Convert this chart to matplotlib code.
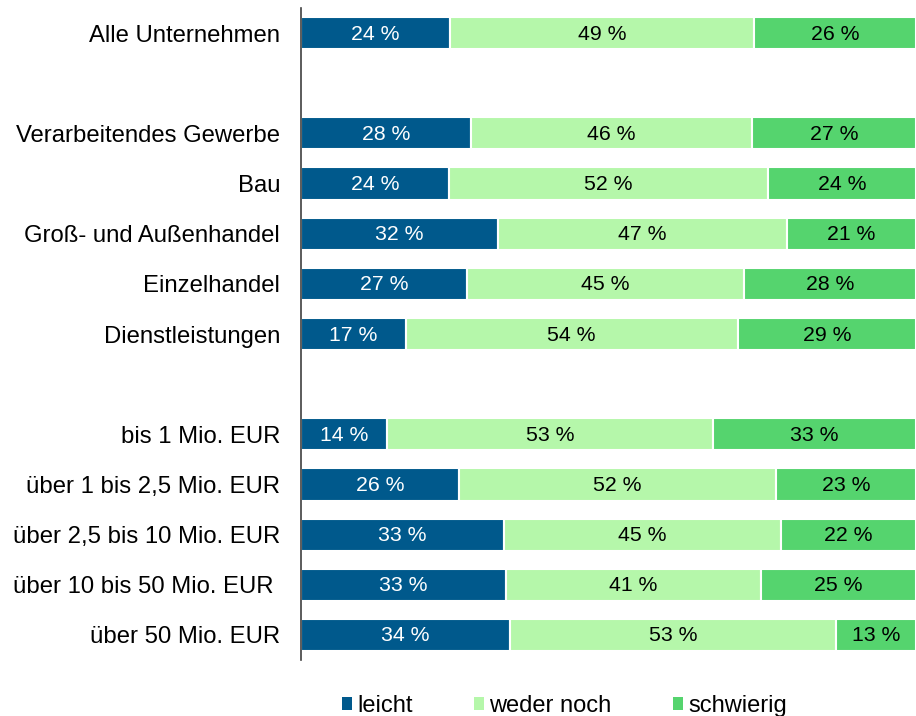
import matplotlib
matplotlib.use("Agg")
import matplotlib.pyplot as plt
import numpy as np
from matplotlib.patches import Patch

plt.rcParams['font.family'] = ['Liberation Sans', 'DejaVu Sans']

categories = ["Alle Unternehmen", "", "Verarbeitendes Gewerbe", "Bau", "Groß- und Außenhandel",
              "Einzelhandel", "Dienstleistungen", "", "bis 1 Mio. EUR", "über 1 bis 2,5 Mio. EUR",
              "über 2,5 bis 10 Mio. EUR", "über 10 bis 50 Mio. EUR ", "über 50 Mio. EUR"]
leicht = [24, None, 28, 24, 32, 27, 17, None, 14, 26, 33, 33, 34]
weder = [49, None, 46, 52, 47, 45, 54, None, 53, 52, 45, 41, 53]
schwierig = [26, None, 27, 24, 21, 28, 29, None, 33, 23, 22, 25, 13]
series_names = ["leicht", "weder noch", "schwierig"]
colors = ["#00598C", "#B5F7AA", "#55D46E"]
text_colors = ["white", "black", "black"]

fig = plt.figure(figsize=(9.16, 7.16), dpi=100)
ax = fig.add_axes([301/916, 1 - 660/716, 1 - 301/916, 652/716])

y = np.arange(len(categories))
for i, cat in enumerate(categories):
    if leicht[i] is None:
        continue
    vals = [leicht[i], weder[i], schwierig[i]]
    total = sum(vals)
    left = 0.0
    for j, v in enumerate(vals):
        w = v / total * 100
        ax.barh(y[i], w, left=left, height=0.64, color=colors[j], edgecolor="white", linewidth=1.5)
        ax.text(left + w / 2, y[i] + 0.02, f"{v} %", ha="center", va="center",
                color=text_colors[j], fontsize=15.3)
        left += w

ax.set_ylim(len(categories) - 0.5, -0.5)
ax.set_xlim(0, 100)
ax.set_yticks(y)
ax.set_yticklabels(categories, fontsize=17.2)
ax.tick_params(axis="y", length=0, pad=15)
ax.set_xticks([])
for s in ["top", "right", "bottom"]:
    ax.spines[s].set_visible(False)
ax.spines["left"].set_color("#404040")
ax.spines["left"].set_linewidth(1.2)

handles = [Patch(facecolor=c, edgecolor="none") for c in colors]
fig.legend(handles, series_names, loc="lower center", bbox_to_anchor=(0.616, -0.031), ncol=3,
           frameon=False, fontsize=17, handlelength=0.45, handleheight=0.45,
           handletextpad=0.2, columnspacing=2.6)

fig.savefig("out.png", dpi=100)
